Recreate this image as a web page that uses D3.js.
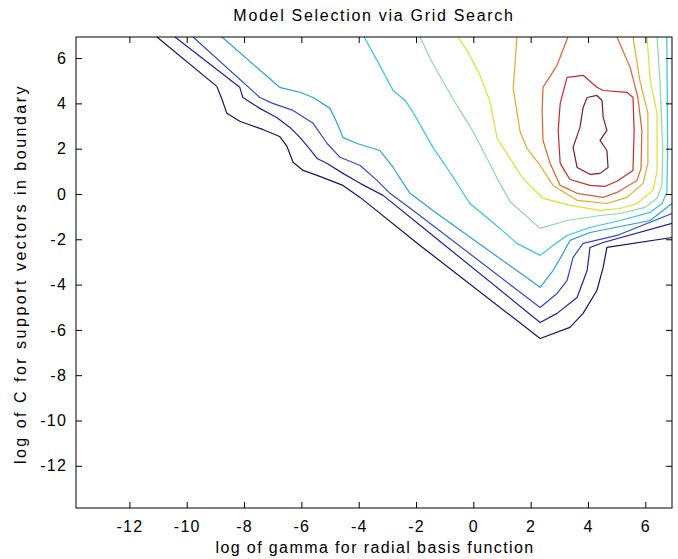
<!DOCTYPE html>
<html lang="en">
<head>
<meta charset="UTF-8" />
<script src="https://d3js.org/d3.v7.min.js"></script>
<style>
  body { margin: 0; background: #fff; }
  text { font-family: "Liberation Sans", Arial, sans-serif; }
</style>
</head>
<body>
<svg width="678" height="559"></svg>
<script>
// axis ranges: log(2^-20) .. log(2^10)
const gammaRange = [-13.863, 6.931];
const cRange = [-13.863, 6.931];
const xTicks = [-12, -10, -8, -6, -4, -2, 0, 2, 4, 6];
const yTicks = [-12, -10, -8, -6, -4, -2, 0, 2, 4, 6];

// contour lines, lowest level first, [log gamma, log C]
const level1 = [[-11.04,6.93],[-8.95,4.75],[-8.77,4.18],[-8.60,3.56],[-8.15,3.21],[-7.35,2.85],[-6.76,2.54],[-6.50,2.10],[-6.29,1.40],[-5.94,1.04],[-5.45,0.82],[-4.55,0.38],[-3.95,-0.15],[-1.86,-2.27],[2.33,-6.38],[3.37,-5.89],[3.83,-5.27],[4.31,-4.26],[4.53,-3.24],[4.66,-2.36],[6.93,-1.92]];
const level2 = [[-10.41,6.93],[-8.15,4.71],[-8.04,4.26],[-7.45,3.78],[-6.86,3.38],[-6.40,2.94],[-6.05,2.50],[-5.70,1.97],[-5.45,1.57],[-5.10,1.35],[-4.55,0.91],[-3.95,0.47],[-3.15,-0.06],[-1.76,-1.48],[2.33,-5.67],[2.92,-5.27],[3.62,-4.57],[3.97,-3.38],[4.07,-2.36],[4.53,-2.14],[6.93,-1.30]];
const level3 = [[-9.78,6.93],[-7.45,4.26],[-7.00,4.00],[-6.29,3.69],[-5.59,3.12],[-5.10,2.23],[-4.65,1.62],[-3.95,1.26],[-3.36,0.60],[-2.91,0.03],[-1.96,-0.86],[2.33,-5.01],[2.92,-4.39],[3.27,-3.82],[3.48,-2.80],[3.83,-2.18],[5.01,-1.83],[6.93,-0.86]];
const level4 = [[-8.77,6.93],[-6.76,4.71],[-6.05,4.49],[-5.59,4.26],[-5.00,3.78],[-4.75,3.12],[-4.55,2.50],[-4.06,2.23],[-3.26,1.92],[-2.80,1.17],[-2.21,0.03],[-1.27,-0.86],[2.33,-4.12],[2.78,-3.38],[3.13,-2.62],[3.37,-2.05],[4.07,-1.70],[6.17,-1.17],[6.93,-0.42]];
const level5 = [[-3.81,6.93],[-3.36,5.90],[-2.80,4.57],[-2.38,4.13],[-2.10,3.60],[-1.41,2.06],[-0.81,0.95],[-0.12,-0.42],[0.93,-1.52],[1.52,-2.18],[2.33,-2.71],[2.78,-2.27],[3.27,-1.83],[4.07,-1.48],[5.12,-1.17],[6.17,-0.81],[6.58,-0.42],[6.75,0.07],[6.78,1.92],[6.75,6.93]];
const level6 = [[-1.86,6.93],[-1.51,5.99],[-1.06,4.97],[-0.57,3.91],[-0.01,2.76],[0.48,1.57],[0.83,0.69],[1.28,-0.33],[2.33,-1.52],[3.27,-1.17],[4.42,-0.95],[5.12,-0.86],[5.99,-0.59],[6.41,-0.19],[6.58,0.38],[6.61,1.92],[6.51,5.01],[6.41,6.93]];
const level7 = [[-0.53,6.93],[-0.12,6.12],[0.23,5.24],[0.58,4.09],[0.83,2.45],[1.28,1.57],[1.73,0.69],[2.43,-0.19],[3.37,-0.50],[4.42,-0.72],[5.12,-0.64],[5.71,-0.42],[6.27,0.16],[6.41,1.04],[6.41,3.56],[6.17,5.01],[6.06,6.93]];
const level8 = [[1.52,6.93],[1.46,5.85],[1.39,4.66],[1.63,2.76],[1.87,2.01],[2.33,1.26],[2.78,0.38],[3.62,-0.28],[4.66,-0.42],[5.36,-0.15],[5.92,0.47],[6.09,1.35],[6.09,3.56],[5.81,5.01],[5.57,6.93]];
const level9 = [[3.30,6.93],[2.92,5.68],[2.43,4.71],[2.40,3.69],[2.43,2.37],[2.68,1.35],[3.03,0.38],[3.62,0.03],[4.53,-0.15],[5.01,0.07],[5.71,0.60],[5.85,1.13],[5.88,2.81],[5.74,4.26],[5.47,5.59],[5.01,6.93]];
const level10 = [[3.27,5.15],[3.83,5.24],[4.31,4.71],[4.53,4.57],[5.36,4.49],[5.57,4.26],[5.61,2.81],[5.57,1.04],[5.01,0.56],[4.60,0.34],[4.07,0.38],[3.37,0.64],[3.03,1.35],[2.96,2.81],[3.03,4.00],[3.27,5.15]];
const level11 = [[3.97,4.26],[4.31,4.35],[4.49,4.13],[4.53,3.38],[4.66,2.81],[4.42,2.37],[4.66,1.92],[4.70,1.17],[4.42,0.91],[4.07,0.87],[3.62,1.17],[3.48,2.06],[3.72,2.94],[3.83,3.82],[3.97,4.26]];

const contourLines = [level1, level2, level3, level4, level5, level6, level7, level8, level9, level10, level11];
const lineColors = ["#141464", "#20209a", "#3048c8", "#2aa0d8", "#30c8dc", "#90d8a0",
                    "#e0e030", "#e8a828", "#e06030", "#c82828", "#7a1a2a"];

const svg = d3.select("svg");
const mLeft = 76, mRight = 672, mTop = 37, mBottom = 508;

const x = d3.scaleLinear().domain(gammaRange).range([mLeft, mRight]);
const y = d3.scaleLinear().domain(cRange).range([mBottom, mTop]);

svg.append("rect").attr("width", 678).attr("height", 559).attr("fill", "#fff");

// contour lines
const line = d3.line().x(d => x(d[0])).y(d => y(d[1]));
svg.append("g")
  .selectAll("path")
  .data(contourLines)
  .enter()
  .append("path")
  .attr("d", line)
  .attr("fill", "none")
  .attr("stroke", (d, i) => lineColors[i])
  .attr("stroke-width", 1.2)
  .attr("stroke-linejoin", "round");

// axes, ticks pointing inward on all four sides like matlab
const fmt = d => String(d);
svg.append("g")
  .attr("transform", "translate(0," + mBottom + ")")
  .call(d3.axisBottom(x).tickValues(xTicks).tickFormat(fmt).tickSizeInner(-6).tickSizeOuter(0).tickPadding(13));
svg.append("g")
  .attr("transform", "translate(0," + mTop + ")")
  .call(d3.axisTop(x).tickValues(xTicks).tickFormat("").tickSizeInner(-6).tickSizeOuter(0));
svg.append("g")
  .attr("transform", "translate(" + mLeft + ",0)")
  .call(d3.axisLeft(y).tickValues(yTicks).tickFormat(fmt).tickSizeInner(-6).tickSizeOuter(0).tickPadding(9));
svg.append("g")
  .attr("transform", "translate(" + mRight + ",0)")
  .call(d3.axisRight(y).tickValues(yTicks).tickFormat("").tickSizeInner(-6).tickSizeOuter(0));

svg.selectAll(".domain").remove();
svg.selectAll(".tick line").attr("stroke", "#000");
svg.selectAll(".tick text")
  .attr("fill", "#000")
  .style("font-family", "Liberation Sans, Arial, sans-serif")
  .style("font-size", "16px")
  .style("letter-spacing", "1.2px");

svg.append("rect")
  .attr("x", mLeft).attr("y", mTop)
  .attr("width", mRight - mLeft).attr("height", mBottom - mTop)
  .attr("fill", "none").attr("stroke", "#000").attr("stroke-width", 1);

// title and labels
svg.append("text")
  .attr("x", (mLeft + mRight) / 2).attr("y", 21)
  .attr("text-anchor", "middle")
  .style("font-size", "16px").style("letter-spacing", "1.7px")
  .text("Model Selection via Grid Search");

svg.append("text")
  .attr("x", (mLeft + mRight) / 2 + 1).attr("y", 553)
  .attr("text-anchor", "middle")
  .style("font-size", "16px").style("letter-spacing", "1.4px")
  .text("log of gamma for radial basis function");

svg.append("text")
  .attr("transform", "translate(26,274) rotate(-90)")
  .attr("text-anchor", "middle")
  .style("font-size", "16px").style("letter-spacing", "2.5px")
  .text("log of C for support vectors in boundary");
</script>
</body>
</html>
